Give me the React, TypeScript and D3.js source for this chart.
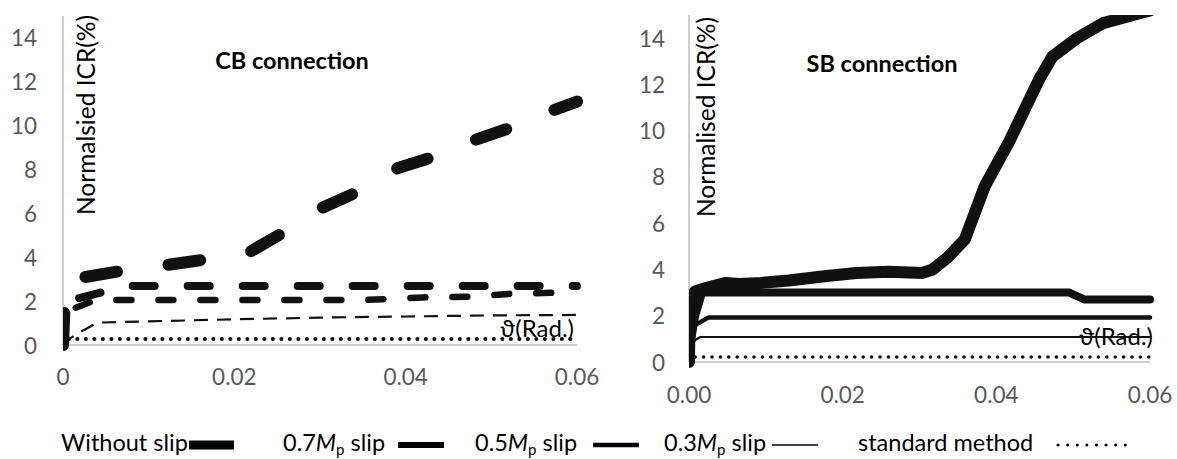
import React from "react";
import * as d3 from "d3";

const W = 1177;
const H = 459;
const FONT = "Lato, 'Open Sans', sans-serif";

// CB connection: [rotation (rad), normalised ICR (%)]
const cbWithoutSlip = [
  [0, 0], [0.0003, 2.9], [0.0026, 3.1], [0.0067, 3.37], [0.0121, 3.65], [0.0163, 3.88],
  [0.02, 4.05], [0.0218, 4.24], [0.0256, 5.1], [0.0302, 6.25], [0.0341, 6.93],
  [0.0391, 8.07], [0.0432, 8.57], [0.0481, 9.35], [0.0522, 9.9], [0.0572, 10.7], [0.06, 11.1],
];
const cb07Slip = [[0, 0], [0.0002, 1.6], [0.001, 2.05], [0.0045, 2.4], [0.0075, 2.69], [0.06, 2.69]];
const cb05Slip = [
  [0, 0], [0.0002, 1.2], [0.0015, 1.7], [0.0038, 2.05], [0.035, 2.05], [0.042, 2.17],
  [0.048, 2.2], [0.052, 2.33], [0.057, 2.38], [0.06, 2.5],
];
const cb03Slip = [
  [0, 0], [0.0004, 0.2], [0.0014, 0.45], [0.004, 1.02], [0.01, 1.08], [0.02, 1.17],
  [0.03, 1.25], [0.04, 1.3], [0.05, 1.35], [0.06, 1.37],
];
const cbStandard = [[0, 0], [0.0006, 0.27], [0.06, 0.27]];

// SB connection
const sbWithoutSlip = [
  [0, 0], [0.0001, 2.7], [0.0008, 3.05], [0.0022, 3.2], [0.0048, 3.42], [0.0065, 3.37],
  [0.0095, 3.42], [0.013, 3.52], [0.0179, 3.72], [0.0218, 3.85], [0.026, 3.9], [0.0304, 3.85],
  [0.0317, 4.0], [0.0336, 4.5], [0.0359, 5.3], [0.0385, 7.6], [0.0417, 9.55], [0.0457, 12.3],
  [0.0473, 13.2], [0.0505, 14.0], [0.0539, 14.65], [0.0578, 15.0], [0.06, 15.2],
];
const sb07Slip = [[0, 0], [0.0003, 1.0], [0.0008, 2.0], [0.0017, 3.0], [0.0495, 3.0], [0.0515, 2.7], [0.06, 2.7]];
const sb05Slip = [[0, 0], [0.0001, 0.9], [0.0008, 1.6], [0.0025, 1.92], [0.06, 1.92]];
const sb03Slip = [[0, 0], [0.0003, 0.7], [0.0008, 0.95], [0.0015, 1.08], [0.06, 1.08]];
const sbStandard = [[0, 0], [0.0006, 0.22], [0.06, 0.22]];

const yTicks = [0, 2, 4, 6, 8, 10, 12, 14];
const xTicks = [0, 0.02, 0.04, 0.06];
const legendNames = ["Without slip", "0.7", "0.5", "0.3", "standard method"];

// line looks, one per series (same order as legend)
const cbStyles = [
  { w: 12, dash: "32 52", cap: "round" },
  { w: 8, dash: "22 33", cap: "round" },
  { w: 6.5, dash: "15 27", cap: "round" },
  { w: 2.2, dash: "14 9", cap: "butt" },
  { w: 4, dash: "0.1 8.4", cap: "round" },
];
const sbStyles = [
  { w: 12, dash: null, cap: "round" },
  { w: 8, dash: null, cap: "round" },
  { w: 4.5, dash: null, cap: "round" },
  { w: 2.2, dash: null, cap: "butt" },
  { w: 3.5, dash: "0.1 8.3", cap: "round" },
];

type Pt = number[];

function Panel(props: any) {
  const { id, series, styles, x0, x1, yTop, yBottom, tickFmt, yTickX, xLabelY, title, titleX, titleY, yTitle, yTitleX, yTitleY, radX, radY } = props;
  const x = d3.scaleLinear().domain([0, 0.06]).range([x0, x1]);
  const y = d3.scaleLinear().domain([0, 15]).range([yBottom, yTop]);
  const line = d3.line<Pt>().x((d) => x(d[0])).y((d) => y(d[1]));
  return (
    <g>
      <defs>
        <clipPath id={id}>
          <rect x={x0} y={yTop} width={x1 - x0 + 20} height={yBottom - yTop + 10} />
        </clipPath>
      </defs>
      <line x1={x0} x2={x0} y1={yTop} y2={yBottom} stroke="#bfbfbf" strokeWidth={1.5} />
      <line x1={x0} x2={x1} y1={yBottom} y2={yBottom} stroke="#bfbfbf" strokeWidth={1.5} />
      {yTicks.map((t) => (
        <text key={t} x={yTickX} y={y(t)} textAnchor="end" dominantBaseline="central" fontSize={22.5} fill="#595959">
          {t}
        </text>
      ))}
      {xTicks.map((t) => (
        <text key={t} x={x(t)} y={xLabelY} textAnchor="middle" dominantBaseline="central" fontSize={22.5} fill="#595959">
          {tickFmt(t)}
        </text>
      ))}
      <g clipPath={`url(#${id})`}>
        {series.map((s: Pt[], i: number) => (
          <path
            key={i}
            d={line(s) || ""}
            fill="none"
            stroke="#111"
            strokeWidth={styles[i].w}
            strokeDasharray={styles[i].dash || undefined}
            strokeLinecap={styles[i].cap}
            strokeLinejoin="round"
          />
        ))}
      </g>
      <text x={titleX} y={titleY} textAnchor="middle" dominantBaseline="central" fontSize={23.5} fontWeight="bold" fill="#000">
        {title}
      </text>
      <text transform={`translate(${yTitleX},${yTitleY}) rotate(-90)`} dominantBaseline="central" fontSize={24.5} fill="#000">
        {yTitle}
      </text>
      <text x={radX} y={radY} textAnchor="end" fontSize={24} fill="#000">
        ϑ(Rad.)
      </text>
    </g>
  );
}

function MpLabel({ x, y, v }: any) {
  return (
    <text x={x} y={y} fontSize={23.5} fill="#000">
      {v}
      <tspan fontStyle="italic">M</tspan>
      <tspan fontSize={15} dy={4}>p</tspan>
      <tspan dy={-4}> slip</tspan>
    </text>
  );
}

export default function App() {
  const legY = 451;
  const swY = 445;
  return (
    <svg width={W} height={H} style={{ position: "absolute", left: 0, top: 0, background: "#fff" }} fontFamily={FONT}>
      <rect width={W} height={H} fill="#fff" />
      <Panel
        id="cb"
        series={[cbWithoutSlip, cb07Slip, cb05Slip, cb03Slip, cbStandard]}
        styles={cbStyles}
        x0={63}
        x1={577}
        yTop={16}
        yBottom={345}
        tickFmt={(t: number) => (t === 0 ? "0" : d3.format(".2f")(t))}
        yTickX={37}
        xLabelY={376}
        title="CB connection"
        titleX={292}
        titleY={60}
        yTitle="Normalsied ICR(%)"
        yTitleX={85}
        yTitleY={215}
        radX={574}
        radY={337}
      />
      <Panel
        id="sb"
        series={[sbWithoutSlip, sb07Slip, sb05Slip, sb03Slip, sbStandard]}
        styles={sbStyles}
        x0={689}
        x1={1150}
        yTop={15}
        yBottom={362}
        tickFmt={d3.format(".2f")}
        yTickX={665}
        xLabelY={394}
        title="SB connection"
        titleX={882}
        titleY={63}
        yTitle="Normalised ICR(%)"
        yTitleX={705}
        yTitleY={217}
        radX={1153}
        radY={345}
      />
      {/* legend */}
      <text x={61} y={legY} fontSize={23.5} fill="#000">{legendNames[0]}</text>
      <line x1={189} x2={234} y1={swY} y2={swY} stroke="#000" strokeWidth={9} />
      <MpLabel x={283} y={legY} v={legendNames[1]} />
      <line x1={398} x2={444} y1={swY} y2={swY} stroke="#000" strokeWidth={6} />
      <MpLabel x={475} y={legY} v={legendNames[2]} />
      <line x1={593} x2={639} y1={swY} y2={swY} stroke="#000" strokeWidth={4.6} />
      <MpLabel x={664} y={legY} v={legendNames[3]} />
      <line x1={772} x2={818} y1={swY} y2={swY} stroke="#000" strokeWidth={1.5} />
      <text x={858} y={legY} fontSize={23.5} fill="#000">{legendNames[4]}</text>
      <line x1={1058} x2={1130} y1={swY} y2={swY} stroke="#000" strokeWidth={3} strokeDasharray="0.1 9.5" strokeLinecap="round" />
    </svg>
  );
}
